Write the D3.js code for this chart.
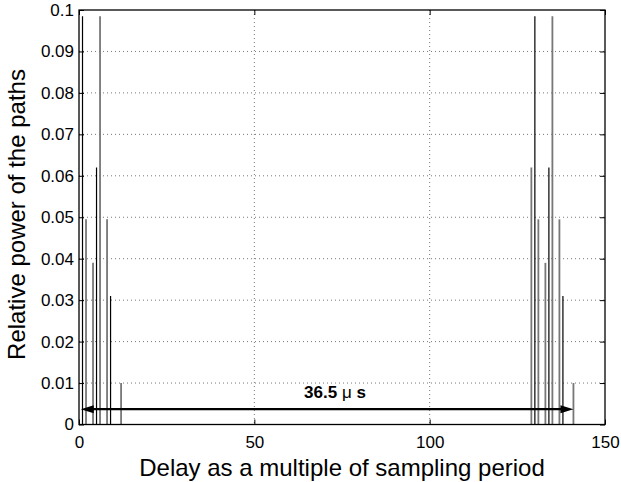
<!DOCTYPE html>
<html>
<head>
<meta charset="utf-8">
<script src="https://cdn.jsdelivr.net/npm/d3@7"></script>
<style>
  body { margin: 0; background: #fff; }
  text { font-family: "Liberation Sans", Arial, sans-serif; }
</style>
</head>
<body>
<div id="chart"></div>
<script>
// black paths (delay, power)
var blackDelays = [1, 5, 9, 130, 134, 138];
var blackPowers = [0.0985, 0.062, 0.031, 0.0985, 0.062, 0.031];
// grey paths
var greyDelays = [2, 4, 6, 8, 12, 129, 131, 133, 135, 137, 141];
var greyPowers = [0.0495, 0.039, 0.0985, 0.0495, 0.01, 0.062, 0.0495, 0.039, 0.0985, 0.0495, 0.01];
var xTicks = [0, 50, 100, 150];
var yTicks = [0, 0.01, 0.02, 0.03, 0.04, 0.05, 0.06, 0.07, 0.08, 0.09, 0.1];
var arrowFrom = 0.5, arrowTo = 141, arrowLevel = 0.0037;
var arrowLabel = "36.5";

var margin = {top: 10, right: 16, bottom: 57.5, left: 79},
    width = 621 - margin.left - margin.right,
    height = 482 - margin.top - margin.bottom;

var svg = d3.select("#chart")
    .append("svg")
    .attr("width", 621)
    .attr("height", 482)
    .append("g")
    .attr("transform", "translate(" + margin.left + "," + margin.top + ")");

var x = d3.scaleLinear().domain([0, 150]).range([0, width]);
var y = d3.scaleLinear().domain([0, 0.1]).range([height, 0]);

// dotted grid
svg.append("g").selectAll("line")
    .data(yTicks.filter(d => d > 0 && d < 0.1))
    .enter().append("line")
    .attr("x1", 0).attr("x2", width)
    .attr("y1", d => y(d)).attr("y2", d => y(d))
    .attr("stroke", "#555").attr("stroke-width", 0.8)
    .attr("stroke-dasharray", "1,3");

svg.append("g").selectAll("line")
    .data(xTicks.filter(d => d > 0 && d < 150))
    .enter().append("line")
    .attr("y1", 0).attr("y2", height)
    .attr("x1", d => x(d)).attr("x2", d => x(d))
    .attr("stroke", "#555").attr("stroke-width", 0.8)
    .attr("stroke-dasharray", "1,3");

// axes, ticks pointing inwards
svg.append("g")
    .attr("transform", "translate(0," + height + ")")
    .call(d3.axisBottom(x).tickValues(xTicks).tickSizeInner(-5).tickSizeOuter(0).tickPadding(11));
svg.append("g")
    .call(d3.axisLeft(y).tickValues(yTicks).tickFormat(d => d === 0 ? "0" : d3.format(".2~f")(d))
        .tickSizeInner(-5).tickSizeOuter(0).tickPadding(5));
svg.append("g")
    .call(d3.axisTop(x).tickValues(xTicks).tickSizeInner(-5).tickSizeOuter(0).tickFormat(""));
svg.append("g")
    .attr("transform", "translate(" + width + ",0)")
    .call(d3.axisRight(y).tickValues(yTicks).tickSizeInner(-5).tickSizeOuter(0).tickFormat(""));

svg.selectAll(".domain").remove();
svg.selectAll(".tick line").attr("stroke", "#000");
svg.selectAll(".tick text").attr("font-size", 17).attr("fill", "#000")
    .style("font-family", "'Liberation Sans', Arial, sans-serif");

// spikes
svg.append("g").selectAll("line")
    .data(greyDelays.map((d, i) => ({d: d, p: greyPowers[i]})))
    .enter().append("line")
    .attr("x1", r => x(r.d)).attr("x2", r => x(r.d))
    .attr("y1", y(0)).attr("y2", r => y(r.p))
    .attr("stroke", "#777").attr("stroke-width", 1.8);

svg.append("g").selectAll("line")
    .data(blackDelays.map((d, i) => ({d: d, p: blackPowers[i]})))
    .enter().append("line")
    .attr("x1", r => x(r.d)).attr("x2", r => x(r.d))
    .attr("y1", y(0)).attr("y2", r => y(r.p))
    .attr("stroke", "#000").attr("stroke-width", 1.2);

// double arrow
var ay = y(arrowLevel), ax1 = x(arrowFrom), ax2 = x(arrowTo);
svg.append("line")
    .attr("x1", ax1 + 8).attr("x2", ax2 - 8)
    .attr("y1", ay).attr("y2", ay)
    .attr("stroke", "#000").attr("stroke-width", 2.2);
svg.append("path")
    .attr("d", "M" + ax1 + "," + ay + "L" + (ax1 + 13) + "," + (ay - 4) + "L" + (ax1 + 13) + "," + (ay + 4) + "Z")
    .attr("fill", "#000");
svg.append("path")
    .attr("d", "M" + ax2 + "," + ay + "L" + (ax2 - 13) + "," + (ay - 4) + "L" + (ax2 - 13) + "," + (ay + 4) + "Z")
    .attr("fill", "#000");

var lbl = svg.append("text")
    .attr("x", x(73))
    .attr("y", ay - 11)
    .attr("text-anchor", "middle")
    .attr("font-size", 17)
    .attr("font-weight", "bold");
lbl.append("tspan").text(arrowLabel + " ");
lbl.append("tspan").attr("font-weight", "normal").text("\u03bc");
lbl.append("tspan").text(" s");

// frame
svg.append("rect")
    .attr("width", width).attr("height", height)
    .attr("fill", "none").attr("stroke", "#000").attr("stroke-width", 1.3);

// axis titles
svg.append("text")
    .attr("x", width / 2)
    .attr("y", height + 51.5)
    .attr("text-anchor", "middle")
    .attr("font-size", 24)
    .text("Delay as a multiple of sampling period");

svg.append("text")
    .attr("transform", "rotate(-90)")
    .attr("x", -204.5)
    .attr("y", -54)
    .attr("text-anchor", "middle")
    .attr("font-size", 24)
    .text("Relative power of the paths");
</script>
</body>
</html>
